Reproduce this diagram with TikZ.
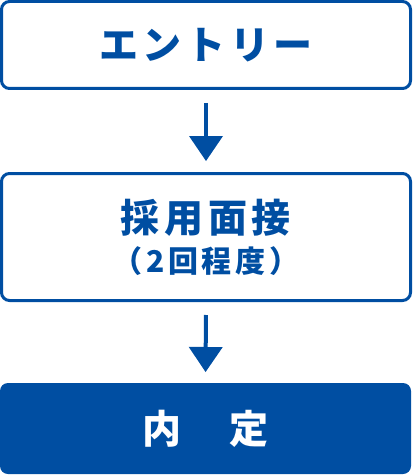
\documentclass[tikz,border=0pt]{standalone}
\usepackage{fontspec}
\usetikzlibrary{arrows.meta}
\usetikzlibrary{positioning}
\newfontfamily\jpfont{Noto Sans CJK JP}[LetterSpace=12]
\definecolor{flowblue}{RGB}{0,78,162}

\begin{document}
\begin{tikzpicture}[x=1pt,y=-1pt,
    stepbox/.style={draw=flowblue,line width=3pt,rounded corners=8pt,
        minimum width=409pt,inner sep=0pt,text=flowblue,align=center,
        font=\jpfont\bfseries\fontsize{39}{46}\selectfont},
    goalbox/.style={fill=flowblue,rounded corners=8pt,minimum width=411pt,
        minimum height=91pt,inner sep=0pt,outer sep=0pt,text=white,
        font=\jpfont\bfseries\fontsize{39}{46}\selectfont},
    flow/.style={draw=flowblue,line width=4pt,
        -{Triangle[width=34pt,length=25pt,line width=0pt,fill=flowblue]}}]
    \useasboundingbox (0,0) rectangle (412,476);

    \node[stepbox,minimum height=87pt] (entry) at (206,45) {エントリー};
    \node[stepbox,minimum height=127pt] (interview) at (206,237)
        {採用面接\\[-6pt]{\fontsize{30}{34}\selectfont （2回程度）}};
    \node[goalbox] (offer) at (205.5,428.5) {内　定};

    \draw[flow,shorten <=13pt,shorten >=11pt] (entry.south) -- (interview.north);
    \draw[flow,shorten <=13pt,shorten >=11pt] (interview.south) -- (offer.north);
\end{tikzpicture}
\end{document}
